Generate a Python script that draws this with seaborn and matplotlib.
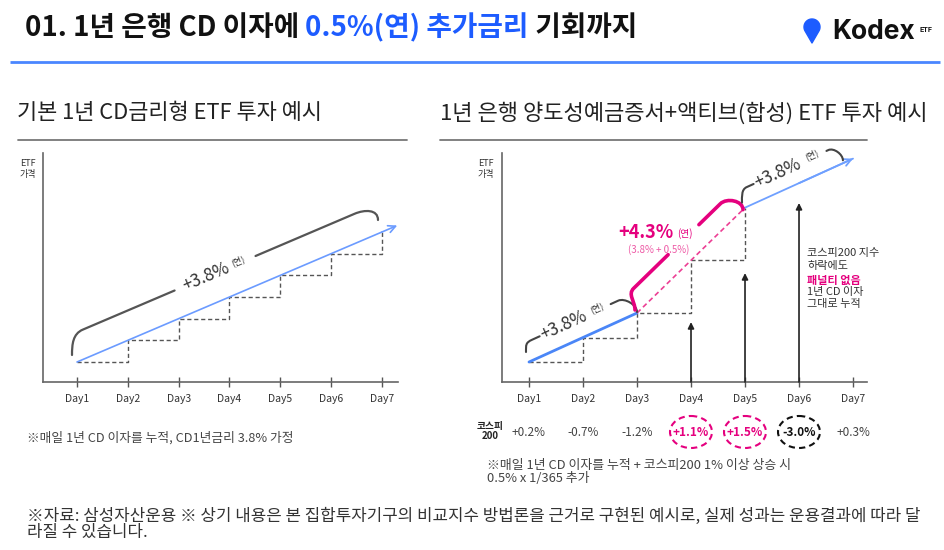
import numpy as np
import matplotlib.pyplot as plt
import seaborn as sns
from matplotlib.patches import Ellipse, Polygon, PathPatch
from matplotlib.path import Path

sns.set_theme(style='white')
plt.rcParams['font.family'] = ['Noto Sans CJK KR', 'DejaVu Sans']

# 데이터 (도식용 ETF 가격 수준, 단위는 임의)
days = [1, 2, 3, 4, 5, 6, 7]
day_labels = ['Day1', 'Day2', 'Day3', 'Day4', 'Day5', 'Day6', 'Day7']
left_level = [0, 1, 2, 3, 4, 5, 6]            # 기본 CD금리형: 매일 같은 폭 누적
left_arrow_ext = 0.3                           # Day7 이후 화살표 연장(일)
right_step_days = [1, 2, 3, 4, 5]
right_step_level = [0, 1, 2, 4.15, 6.3]        # Day4, Day5 추가금리 구간
right_tail_days = [5, 6, 7]
right_tail_level = [6.3, 7.3, 8.3]
kospi_change = [0.2, -0.7, -1.2, 1.1, 1.5, -3.0, 0.3]
kospi_mark = ['', '', '', 'pink', 'pink', 'black', '']
arrow_days = [4, 5, 6]
arrow_top = [1.63, 3.63, 6.49]

W, H = 945, 550
PINK = '#e5007e'
BLUE = '#1d5cff'

fig = plt.figure(figsize=(W / 100, H / 100), dpi=100)
fig.patch.set_facecolor('white')


def box(x0, y0, x1, y1):
    return [x0 / W, 1 - y1 / H, (x1 - x0) / W, (y1 - y0) / H]


axL = fig.add_axes(box(43, 153, 398, 382))
axR = fig.add_axes(box(502, 153, 867, 382))
axL.set_xlim(0.331, 7.315)
axL.set_ylim(-0.923, 9.645)
axR.set_xlim(0.5, 7.259)
axR.set_ylim(-0.816, 8.53)

for ax in (axL, axR):
    ax.set_facecolor('none')
    sns.despine(ax=ax)
    for s in ('left', 'bottom'):
        ax.spines[s].set_color('#666666')
        ax.spines[s].set_linewidth(1.2)
    ax.set_xticks(days)
    ax.set_xticklabels(day_labels)
    ax.set_yticks([])
    ax.tick_params(axis='x', direction='inout', length=7, width=1, colors='#555555',
                   labelsize=7.5, labelcolor='#333333', pad=5, bottom=True)

# 왼쪽: 기본 CD금리형
sns.lineplot(x=days, y=left_level, ax=axL, drawstyle='steps-post', color='#555555',
             lw=1, linestyle=(0, (3, 2)))
sns.lineplot(x=days, y=left_level, ax=axL, color='#6b9bff', lw=1.2)
slope = (left_level[-1] - left_level[0]) / (days[-1] - days[0])
axL.annotate('', xy=(days[-1] + left_arrow_ext, left_level[-1] + left_arrow_ext * slope),
             xytext=(days[-1], left_level[-1]),
             arrowprops=dict(arrowstyle='->', color='#6b9bff', lw=1.2, shrinkA=0, shrinkB=0,
                             mutation_scale=13))

# 오른쪽: 양도성예금증서 + 액티브
sns.lineplot(x=right_step_days, y=right_step_level, ax=axR, drawstyle='steps-post',
             color='#555555', lw=1, linestyle=(0, (3, 2)))
sns.lineplot(x=right_step_days[:3], y=right_step_level[:3], ax=axR, color='#4a86f7', lw=2)
sns.lineplot(x=right_step_days[2:], y=right_step_level[2:], ax=axR, color='#ec3f94', lw=1.2,
             linestyle=(0, (3, 2)))
sns.lineplot(x=right_tail_days, y=right_tail_level, ax=axR, color='#6fa0ff', lw=1.3)
axR.annotate('', xy=(right_tail_days[-1], right_tail_level[-1]),
             xytext=(right_tail_days[-2], right_tail_level[-2]),
             arrowprops=dict(arrowstyle='->', color='#6fa0ff', lw=1.3, shrinkA=0, shrinkB=0,
                             mutation_scale=13))
y0 = axR.get_ylim()[0]
for d, top in zip(arrow_days, arrow_top):
    axR.annotate('', xy=(d, top), xytext=(d, y0),
                 arrowprops=dict(arrowstyle='-|>', color='#222222', lw=1.2, shrinkA=0,
                                 shrinkB=0, mutation_scale=9), annotation_clip=False)

# 장식용 픽셀 좌표 축
ov = fig.add_axes([0, 0, 1, 1])
ov.set_xlim(0, W)
ov.set_ylim(H, 0)
ov.axis('off')
ov.set_facecolor('none')
R = fig.canvas.get_renderer()


def to_px(ax, x, y):
    X, Y = ax.transData.transform((x, y))
    return np.array([X, H - Y])


def rich(x, y, parts, **kw):
    for s, c, w, fs in parts:
        t = ov.text(x, y, s, color=c, fontweight=w, fontsize=fs, va='center', ha='left', **kw)
        x += t.get_window_extent(renderer=R).width
    return x


def brace(ax, p0, p1, h, r, t, gap, s0, s1, color, lw):
    a = to_px(ax, *p0)
    b = to_px(ax, *p1)
    L = np.linalg.norm(b - a)
    u = (b - a) / L
    n = np.array([u[1], -u[0]])
    base = a + n * h
    E0 = base + u * r
    E1 = base + u * (L - r)
    S0 = a + np.array(s0)
    S1 = b + np.array(s1)
    up = np.array([0, -1])
    g0 = base + u * max(t * L - gap / 2, r)
    g1 = base + u * (t * L + gap / 2)
    k = r * 0.6
    verts = [S0, S0 + up * k, E0 - u * k, E0, g0, g1, E1, E1 + u * k, S1 + up * k, S1]
    codes = [Path.MOVETO, Path.CURVE4, Path.CURVE4, Path.CURVE4, Path.LINETO,
             Path.MOVETO, Path.LINETO, Path.CURVE4, Path.CURVE4, Path.CURVE4]
    ov.add_patch(PathPatch(Path(verts, codes), fill=False, ec=color, lw=lw,
                           capstyle='round'))
    return base + u * t * L, u, n


def rate_label(c, u, n, back, fwd, fs=12.5, color='#333333'):
    ang = np.degrees(np.arctan2(-u[1], u[0]))
    p = c - u * back
    ov.text(p[0], p[1], '+3.8%', fontsize=fs, color=color, rotation=ang,
            rotation_mode='anchor', ha='center', va='center', fontweight='light')
    q = c + u * fwd + n * 2
    ov.text(q[0], q[1], '(연)', fontsize=6.5, color=color, rotation=ang,
            rotation_mode='anchor', ha='center', va='center')


c, u, n = brace(axL, (days[0], left_level[0]), (days[-1], left_level[-1]), 27.5, 18, 0.488,
                88, (-5, -7), (-4, -12), '#555555', 1.6)
rate_label(c, u, n, 10, 26)

c, u, n = brace(axR, (1, right_step_level[0]), (3, right_step_level[2]), 19, 12, 0.5, 78,
                (-3, -10), (0, -1), '#444444', 1.5)
rate_label(c, u, n, 13, 25)

c, u, n = brace(axR, (3, right_step_level[2]), (5, right_step_level[4]), 20, 15, 0.56, 43,
                (-2, -3), (-2, 2), PINK, 2.6)
ov.text(c[0] - 10, c[1] - 7, '+4.3%', fontsize=13, color=PINK, fontweight='bold',
        ha='right', va='center')
ov.text(c[0] - 6, c[1] - 6, '(연)', fontsize=7, color=PINK, ha='left', va='center')
ov.text(c[0] - 25, c[1] + 10, '(3.8% + 0.5%)', fontsize=7, color='#ee5aa6', ha='center',
        va='center')

c, u, n = brace(axR, (5, right_tail_level[0]), (6.85, right_tail_level[0] + 1.85), 18, 10,
                0.525, 80, (-3, -5), (-2, -2), '#444444', 1.5)
rate_label(c, u, n, 13, 25)

# 제목
rich(25, 28, [('01. 1년 은행 CD 이자에 ', '#111111', 'bold', 20),
              ('0.5%(연) 추가금리', BLUE, 'bold', 20),
              (' 기회까지', '#111111', 'bold', 20)])
ov.plot([10, 940], [62, 62], color='#4a86ff', lw=2, solid_capstyle='butt')

# Kodex 로고
cx, cy, rr = 812, 27, 8
th = np.radians(np.linspace(-28, 208, 60))
pts = np.column_stack([cx + rr * np.cos(th), cy - rr * np.sin(th)])
pts = np.vstack([pts, [cx, cy + 16]])
ov.add_patch(Polygon(pts, closed=True, fc=BLUE, ec=BLUE, lw=1, joinstyle='round'))
kx = rich(832, 32, [('Kodex', '#111111', 'bold', 19)], family='Inter')
ov.text(kx + 5, 30, 'ETF', fontsize=5, fontweight='bold', family='Inter', color='#111111',
        ha='left', va='center')

# 소제목
ov.text(17, 113, '기본 1년 CD금리형 ETF 투자 예시', fontsize=15.8, color='#222222',
        ha='left', va='center')
ov.plot([18, 407], [140, 140], color='#777777', lw=1.3)
ov.text(440, 113, '1년 은행 양도성예금증서+액티브(합성) ETF 투자 예시', fontsize=15.9,
        color='#222222', ha='left', va='center')
ov.plot([440, 867], [140, 140], color='#777777', lw=1.3)

for x in (28, 486):
    ov.text(x, 169, 'ETF\n가격', fontsize=6.5, color='#333333', ha='center', va='center',
            linespacing=1.3)

# 오른쪽 설명
for i, (s, col, w) in enumerate([('코스피200 지수', '#333333', 'normal'),
                                 ('하락에도', '#333333', 'normal'),
                                 ('패널티 없음', PINK, 'bold'),
                                 ('1년 CD 이자', '#333333', 'normal'),
                                 ('그대로 누적', '#333333', 'normal')]):
    ov.text(807, [253, 266, 280, 292, 304][i], s, fontsize=8, color=col, fontweight=w,
            ha='left', va='center')

# 코스피200 등락률
ov.text(490, 431, '코스피\n200', fontsize=7, fontweight='bold', color='#222222',
        ha='center', va='center', linespacing=1.05)
for d, v, m in zip(days, kospi_change, kospi_mark):
    x = to_px(axR, d, 0)[0]
    col = {'pink': PINK, 'black': '#111111'}.get(m, '#444444')
    ov.text(x, 432, f'{v:+.1f}%', fontsize=8.5, color=col,
            fontweight='bold' if m else 'normal', ha='center', va='center')
    if m:
        ov.add_patch(Ellipse((x, 432), 42, 32, fill=False, ec=col, lw=1.5,
                             linestyle=(0, (3, 2))))

# 각주
ov.text(27, 438, '※매일 1년 CD 이자를 누적, CD1년금리 3.8% 가정', fontsize=9.2, color='#444444',
        ha='left', va='center')
ov.text(487, 465, '※매일 1년 CD 이자를 누적 + 코스피200 1% 이상 상승 시', fontsize=9.3,
        color='#444444', ha='left', va='center')
ov.text(487, 479, '0.5% x 1/365 추가', fontsize=9.3, color='#444444', ha='left', va='center')
ov.text(27, 516, '※자료: 삼성자산운용 ※ 상기 내용은 본 집합투자기구의 비교지수 방법론을 근거로 구현된 예시로, '
        '실제 성과는 운용결과에 따라 달', fontsize=12.1, color='#333333', ha='left', va='center')
ov.text(27, 532, '라질 수 있습니다.', fontsize=12.1, color='#333333', ha='left', va='center')

fig.savefig('out.png', dpi=100)
